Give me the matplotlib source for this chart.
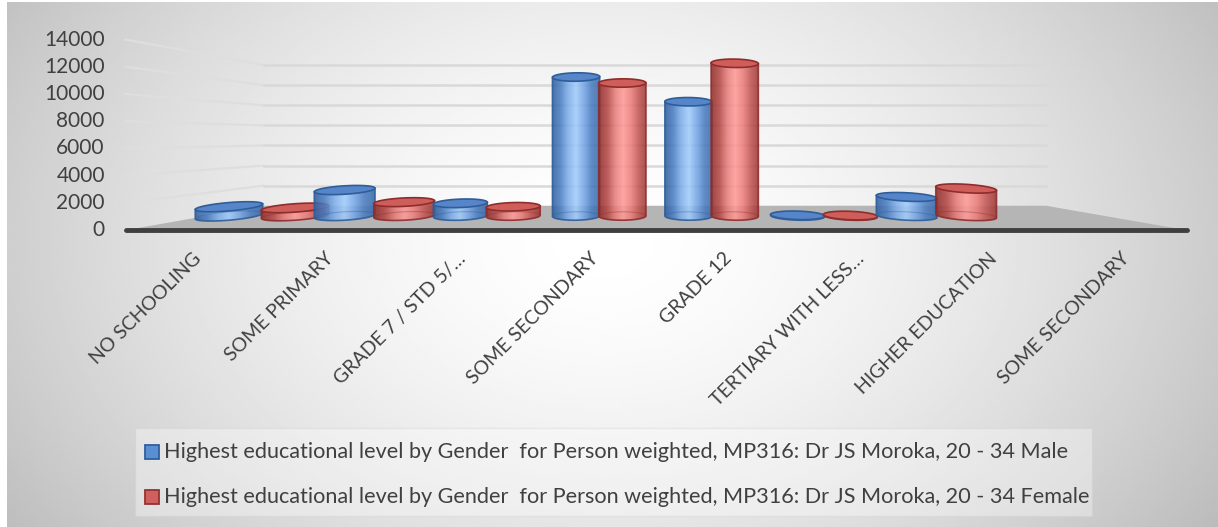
import numpy as np
import matplotlib.pyplot as plt
from matplotlib.patches import Polygon, Rectangle
from matplotlib.colors import LinearSegmentedColormap

plt.rcParams['font.family'] = ['Lato', 'DejaVu Sans']

# data
categories = ['NO SCHOOLING', 'SOME PRIMARY', 'GRADE 7 / STD 5/…', 'SOME SECONDARY',
              'GRADE 12', 'TERTIARY WITH LESS…', 'HIGHER EDUCATION', 'SOME SECONDARY']
male = [800, 2250, 1100, 12040, 9900, 60, 1650, None]
female = [700, 1200, 800, 11520, 13230, 40, 2380, None]
y_ticks = [0, 2000, 4000, 6000, 8000, 10000, 12000, 14000]
series_names = [
    'Highest educational level by Gender  for Person weighted, MP316: Dr JS Moroka, 20 - 34 Male',
    'Highest educational level by Gender  for Person weighted, MP316: Dr JS Moroka, 20 - 34 Female',
]

W, H = 1218, 527
fig = plt.figure(figsize=(W / 100, H / 100), dpi=100, facecolor='white')

# soft grey radial backdrop
bg = fig.add_axes([7 / W, 0, 1 - 7 / W, 1 - 2 / H])
gx, gy = np.meshgrid(np.linspace(0, W, 400), np.linspace(0, H, 200))
r = np.sqrt(((gx - 600) / 620) ** 2 + ((gy - 240) / 440) ** 2)
shade = 1 - 0.2 * r ** 1.6
bg.imshow(shade, cmap='gray', vmin=0, vmax=1, aspect='auto', interpolation='bilinear')
bg.axis('off')

# main axes: x = category index, y = value on the plane of the cylinders
ax = fig.add_axes([0, 0, 1, 1])
ax.patch.set_alpha(0)
ax.axis('off')
X0, CAT = 262, 112.4          # pixel of first category, pixels per category
Y0, VPX = 216, 161.6 / 14000  # pixel of zero, pixels per unit
xlim = (-X0 / CAT, (W - X0) / CAT)
ylim = ((Y0 - H) / VPX, Y0 / VPX)

# simple one-point perspective for floor and walls
vp = ((651 - X0) / CAT, (Y0 - 137) / VPX)
FRONT, BACK = 1.18, 0.87
x_lo, x_hi = -0.5, len(categories) - 0.5


def proj(x, v, s):
    return vp[0] + s * (x - vp[0]), vp[1] + s * (v - vp[1])


floor = [proj(x_lo, 0, FRONT), proj(x_hi, 0, FRONT), proj(x_hi, 0, BACK), proj(x_lo, 0, BACK)]
ax.add_patch(Polygon(floor, closed=True, facecolor='#b5b5b5', edgecolor='none', zorder=1))
fl, fr = proj(x_lo, 0, FRONT), proj(x_hi, 0, FRONT)
ax.plot([fl[0], fr[0]], [fl[1], fr[1]], color='#3f3f3f', lw=3.5, solid_capstyle='round', zorder=2)

for v in y_ticks:
    a, b = proj(x_lo, v, FRONT), proj(x_lo, v, BACK)
    c = proj(x_hi, v, BACK)
    if v > 0:
        ax.plot([a[0], b[0]], [a[1], b[1]], color='#dedede', lw=1.6, zorder=1.5)
        ax.plot([b[0], c[0]], [b[1], c[1]], color='#d9d9d9', lw=1.8, zorder=1.5)
    ax.annotate(f'{v}', xy=a, xytext=(-15, 0), textcoords='offset points',
                ha='right', va='center', fontsize=15, color='#404040')

for i, lab in enumerate(categories):
    ax.annotate(lab, xy=proj(i, 0, FRONT), xytext=(0, -14), textcoords='offset points',
                ha='right', va='top', rotation=45, rotation_mode='anchor',
                fontsize=14, color='#404040')

blue_map = LinearSegmentedColormap.from_list(
    'blue_cyl', ['#30609f', '#4a7dc2', '#7eaeea', '#a2cdfb', '#76a6e6', '#4a7cc0', '#3a6aa9'])
red_map = LinearSegmentedColormap.from_list(
    'red_cyl', ['#8f2e2c', '#b34744', '#e57c79', '#ff9b98', '#ec7f7c', '#c25653', '#9c3734'])
grad = np.linspace(0, 1, 64).reshape(1, -1)
CAP = 4.2 / VPX
t = np.linspace(0, 2 * np.pi, 90)


def cylinder(xc, w, v, cmap, cap_col, edge_col, z):
    hw = w / 2
    k = 0.022 * (vp[0] - xc) * CAT / VPX
    bot_x = xc + hw * np.cos(t)
    bot_y = CAP * np.sin(t) + k * hw * np.cos(t)
    top_y = v + bot_y
    lower = (t >= np.pi)
    body = np.vstack([
        [[xc - hw, v - k * hw]],
        np.column_stack([bot_x[lower], bot_y[lower]]),
        [[xc + hw, v + k * hw]],
    ])
    outline = Polygon(body, closed=True, facecolor='none', edgecolor=edge_col,
                      lw=1.2, alpha=0.9, zorder=z + 0.2)
    ax.add_patch(outline)
    ext = (xc - hw, xc + hw, -CAP - abs(k * hw), v + CAP + abs(k * hw))
    im = ax.imshow(grad, cmap=cmap, extent=ext, aspect='auto', alpha=0.88,
                   interpolation='bilinear', zorder=z)
    im.set_clip_path(outline)
    ax.plot(bot_x[~lower], bot_y[~lower], color=edge_col, lw=0.8, alpha=0.35, zorder=z + 0.1)
    ax.add_patch(Polygon(np.column_stack([bot_x, top_y]), closed=True, facecolor=cap_col,
                         edgecolor=edge_col, lw=1.2, zorder=z + 0.3))


for i in range(len(categories)):
    w = 0.39 + 0.06 * abs(i - 3.5)
    for j, (vals, cmap, cap_col, edge_col) in enumerate([
            (male, blue_map, '#5686c9', '#2f5d99'),
            (female, red_map, '#cf5e5b', '#8e2d2b')]):
        if vals[i] is None:
            continue
        xc = i + (j - 0.5) * w * 0.98
        cylinder(xc, w, vals[i], cmap, cap_col, edge_col, 3 + i + j * 0.5)

ax.set_xlim(*xlim)
ax.set_ylim(*ylim)

# legend panel
ov = fig.add_axes([0, 0, 1, 1])
ov.patch.set_alpha(0)
ov.axis('off')
ov.set_xlim(0, W)
ov.set_ylim(H, 0)
ov.add_patch(Rectangle((135, 428), 957, 88, facecolor='white', alpha=0.35,
                       edgecolor='#cfcfcf', lw=1))
for row, (name, face, edge) in enumerate(zip(series_names, ['#5b8fd4', '#d0605e'],
                                             ['#2f5f9e', '#953331'])):
    yc = 452 + 45 * row
    ov.add_patch(Rectangle((145, yc - 7), 14, 14, facecolor=face, edgecolor=edge, lw=1.3))
    ov.text(164, yc, name, ha='left', va='center', fontsize=15.6, color='#404040')

fig.savefig('out.png', dpi=100)
